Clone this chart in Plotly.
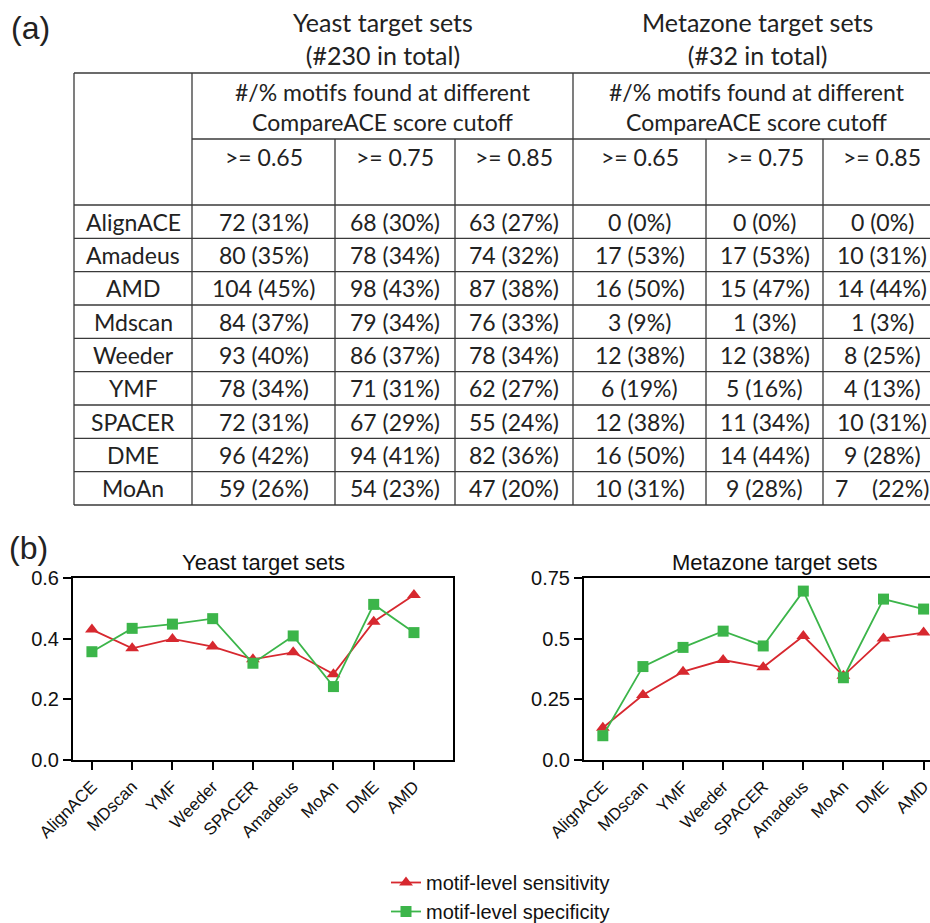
import plotly.graph_objects as go

W, H = 930, 923

# ---------------- table data ----------------
methods = ["AlignACE", "Amadeus", "AMD", "Mdscan", "Weeder", "YMF", "SPACER", "DME", "MoAn"]
cutoffs = [">= 0.65", ">= 0.75", ">= 0.85"]
yeast_n_065 = [72, 80, 104, 84, 93, 78, 72, 96, 59]
yeast_p_065 = [31, 35, 45, 37, 40, 34, 31, 42, 26]
yeast_n_075 = [68, 78, 98, 79, 86, 71, 67, 94, 54]
yeast_p_075 = [30, 34, 43, 34, 37, 31, 29, 41, 23]
yeast_n_085 = [63, 74, 87, 76, 78, 62, 55, 82, 47]
yeast_p_085 = [27, 32, 38, 33, 34, 27, 24, 36, 20]
meta_n_065 = [0, 17, 16, 3, 12, 6, 12, 16, 10]
meta_p_065 = [0, 53, 50, 9, 38, 19, 38, 50, 31]
meta_n_075 = [0, 17, 15, 1, 12, 5, 11, 14, 9]
meta_p_075 = [0, 53, 47, 3, 38, 16, 34, 44, 28]
meta_n_085 = [0, 10, 14, 1, 8, 4, 10, 9, 7]
meta_p_085 = [0, 31, 44, 3, 25, 13, 31, 28, 22]
group_titles = ["Yeast target sets<br>(#230 in total)", "Metazone target sets<br>(#32 in total)"]
group_sub = "#/% motifs found at different<br>CompareACE score cutoff"

# ---------------- chart data ----------------
tools = ["AlignACE", "MDscan", "YMF", "Weeder", "SPACER", "Amadeus", "MoAn", "DME", "AMD"]
yeast_sens = [0.430, 0.368, 0.399, 0.374, 0.332, 0.355, 0.283, 0.456, 0.544]
yeast_spec = [0.357, 0.434, 0.448, 0.466, 0.319, 0.409, 0.242, 0.513, 0.420]
meta_sens = [0.133, 0.268, 0.364, 0.412, 0.382, 0.511, 0.347, 0.501, 0.525]
meta_spec = [0.100, 0.385, 0.464, 0.531, 0.470, 0.696, 0.339, 0.663, 0.622]
yeast_ticks = [0, 0.2, 0.4, 0.6]
meta_ticks = [0, 0.25, 0.5, 0.75]
meta_ticktext = ["0.0", "0.25", "0.5", "0.75"]

RED = "#d7282f"
GREEN = "#3cb54a"
TFONT = "Lato"
CFONT = "Liberation Sans, Arial"


def px(x):
    return x / W


def py(y):
    return 1 - y / H


fig = go.Figure()

# ---------------- table ----------------
shapes = []
LC = "#3a3a3a"


def hline(y, x0, x1):
    shapes.append(dict(type="line", xref="paper", yref="paper", x0=px(x0), x1=px(x1),
                       y0=py(y), y1=py(y), line=dict(color=LC, width=1.3)))


def vline(x, y0, y1):
    shapes.append(dict(type="line", xref="paper", yref="paper", x0=px(x), x1=px(x),
                       y0=py(y0), y1=py(y1), line=dict(color=LC, width=1.3)))


col_x = [74, 192, 335, 455, 573, 706, 823, 941]
t_top, t_sub, t_hdr, t_bot = 73, 139, 205, 505
row_h = (t_bot - t_hdr) / len(methods)

hline(t_top, col_x[0], col_x[-1])
hline(t_sub, col_x[1], col_x[-1])
for i in range(len(methods) + 1):
    hline(t_hdr + i * row_h, col_x[0], col_x[-1])
for j, x in enumerate(col_x[:-1]):
    if j in (0, 1, 4):
        vline(x, t_top, t_bot)
    else:
        vline(x, t_sub, t_bot)

ann = []


def txt(x, y, s, size=23, family=TFONT, color="#222", **kw):
    ann.append(dict(x=px(x), y=py(y), xref="paper", yref="paper", text=s, showarrow=False,
                    font=dict(size=size, family=family, color=color), xanchor="center",
                    yanchor="middle", **kw))


txt(30, 28, "(a)", size=32, family=CFONT)
txt(28, 548, "(b)", size=32, family=CFONT)

group_centers = [(col_x[1] + col_x[4]) / 2, (col_x[4] + col_x[7]) / 2]
for g, cx in enumerate(group_centers):
    txt(cx, 39, group_titles[g], size=25)
    txt(cx, 107, group_sub, size=23)

for j in range(6):
    cx = (col_x[j + 1] + col_x[j + 2]) / 2
    txt(cx, 157, cutoffs[j % 3])

cols = [(yeast_n_065, yeast_p_065), (yeast_n_075, yeast_p_075), (yeast_n_085, yeast_p_085),
        (meta_n_065, meta_p_065), (meta_n_075, meta_p_075), (meta_n_085, meta_p_085)]
for i, m in enumerate(methods):
    cy = t_hdr + (i + 0.5) * row_h
    txt((col_x[0] + col_x[1]) / 2, cy, m)
    for j, (ns, ps) in enumerate(cols):
        cx = (col_x[j + 1] + col_x[j + 2]) / 2
        if j == 5 and i == len(methods) - 1:
            s = f"{ns[i]}\u00a0\u00a0\u00a0\u00a0({ps[i]}%)"
        else:
            s = f"{ns[i]} ({ps[i]}%)"
        txt(cx, cy, s)

# ---------------- charts ----------------
fig.add_trace(go.Scatter(x=tools, y=yeast_sens, mode="lines+markers", name="motif-level sensitivity",
                         line=dict(color=RED, width=1.8),
                         marker=dict(symbol="triangle-up", size=12, color=RED),
                         xaxis="x", yaxis="y", cliponaxis=False))
fig.add_trace(go.Scatter(x=tools, y=yeast_spec, mode="lines+markers", name="motif-level specificity",
                         line=dict(color=GREEN, width=1.8),
                         marker=dict(symbol="square", size=11, color=GREEN),
                         xaxis="x", yaxis="y", cliponaxis=False))
fig.add_trace(go.Scatter(x=tools, y=meta_sens, mode="lines+markers", showlegend=False,
                         line=dict(color=RED, width=1.8),
                         marker=dict(symbol="triangle-up", size=12, color=RED),
                         xaxis="x2", yaxis="y2", cliponaxis=False))
fig.add_trace(go.Scatter(x=tools, y=meta_spec, mode="lines+markers", showlegend=False,
                         line=dict(color=GREEN, width=1.8),
                         marker=dict(symbol="square", size=11, color=GREEN),
                         xaxis="x2", yaxis="y2", cliponaxis=False))

p_top, p_bot = 578, 760
ax_common = dict(showgrid=False, zeroline=False, showline=True, linecolor="black", linewidth=2,
                 ticks="outside", ticklen=8, tickwidth=2, tickcolor="black",
                 tickfont=dict(family=CFONT, size=20, color="#111"))
xax_common = dict(ax_common, tickangle=-45, tickfont=dict(family=CFONT, size=17, color="#111"),
                  type="category")

txt((73 + 453) / 2, 562, "Yeast target sets", size=22, family=CFONT, color="#111")
txt((584 + 964) / 2, 562, "Metazone target sets", size=22, family=CFONT, color="#111")

fig.update_layout(
    width=W, height=H, margin=dict(l=0, r=0, t=0, b=0, pad=0, autoexpand=False),
    paper_bgcolor="white", plot_bgcolor="white",
    xaxis=dict(xax_common, domain=[px(73), px(453)], range=[-0.47, 8.97], mirror=True, anchor="y"),
    yaxis=dict(ax_common, domain=[py(p_bot), py(p_top)], range=[0, 0.6], tickvals=yeast_ticks,
               tickformat=".1f", mirror=True, anchor="x"),
    xaxis2=dict(xax_common, domain=[px(584), 1.0], range=[-0.47, 8.16], mirror=True, anchor="y2"),
    yaxis2=dict(ax_common, domain=[py(p_bot), py(p_top)], range=[0, 0.75], tickvals=meta_ticks,
                ticktext=meta_ticktext, mirror=False, anchor="x2"),
    legend=dict(x=px(386), y=-8 / H, xanchor="left", yanchor="bottom",
                font=dict(family=CFONT, size=20, color="#111"), bgcolor="rgba(0,0,0,0)",
                itemwidth=30, tracegroupgap=0),
    shapes=shapes,
    annotations=ann,
)

fig.write_html(
    "out.html",
    config={"displayModeBar": False},
    post_script="document.body.style.margin='0px';"
                "document.body.style.overflow='hidden';"
                "document.documentElement.style.overflow='hidden';",
)
